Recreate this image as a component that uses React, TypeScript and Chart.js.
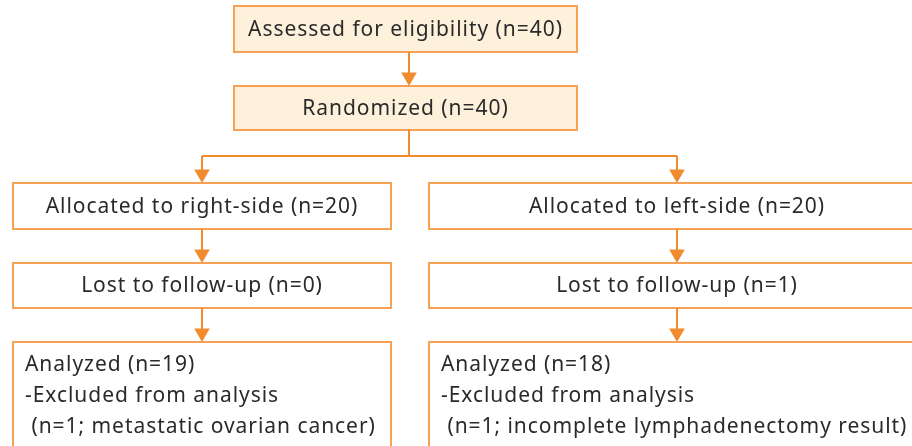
import React, { useEffect, useRef } from "react";
import { Chart, registerables } from "chart.js";
Chart.register(...registerables);

// ---- content ----
const stageLabels = [
  "Assessed for eligibility (n=40)",
  "Randomized (n=40)",
];
const armNames = ["right-side", "left-side"];
const allocatedN = [20, 20];
const lostN = [0, 1];
const analyzedN = [19, 18];
const excludedN = [1, 1];
const excludedReasons = ["metastatic ovarian cancer", "incomplete lymphadenectomy result"];

// ---- layout (in scale units, 1 unit = 1 px) ----
const W = 912;
const H = 446;
const topBoxX = [234, 577];
const topBoxY = [[6, 52], [86, 130]];
const armCenterX = [202, 677];
const armBoxX = [[13, 391], [429, 930]];
const allocY = [183, 229];
const lostY = [263, 308];
const analyzedY = [342, 460];
const trunkX = 409;
const splitY = 156;

const ORANGE = "#F28A2E";
const BORDER = "#F6A154";
const FILL = "#FEF1DC";
const TEXT = "#2a2a2a";
const FONT = '21px "Noto Sans", sans-serif';
const LETTER_SPACING = "0.95px";

type Box = { x0: number; x1: number; y0: number; y1: number; fill?: string; lines: string[]; align: "center" | "left"; cx?: number };

const boxes: Box[] = [
  { x0: topBoxX[0], x1: topBoxX[1], y0: topBoxY[0][0], y1: topBoxY[0][1], fill: FILL, lines: [stageLabels[0]], align: "center" },
  { x0: topBoxX[0], x1: topBoxX[1], y0: topBoxY[1][0], y1: topBoxY[1][1], fill: FILL, lines: [stageLabels[1]], align: "center" },
];
armNames.forEach((name, i) => {
  boxes.push({ x0: armBoxX[i][0], x1: armBoxX[i][1], y0: allocY[0], y1: allocY[1], lines: [`Allocated to ${name} (n=${allocatedN[i]})`], align: "center", cx: armCenterX[i] });
  boxes.push({ x0: armBoxX[i][0], x1: armBoxX[i][1], y0: lostY[0], y1: lostY[1], lines: [`Lost to follow-up (n=${lostN[i]})`], align: "center", cx: armCenterX[i] });
  boxes.push({
    x0: armBoxX[i][0], x1: armBoxX[i][1], y0: analyzedY[0], y1: analyzedY[1],
    lines: [`Analyzed (n=${analyzedN[i]})`, "-Excluded from analysis", ` (n=${excludedN[i]}; ${excludedReasons[i]})`],
    align: "left",
  });
});

// connector segments
const segments: { x: number; y: number }[][] = [
  [{ x: trunkX, y: topBoxY[0][1] }, { x: trunkX, y: topBoxY[1][0] - 2 }],
  [{ x: trunkX, y: topBoxY[1][1] }, { x: trunkX, y: splitY }],
  [{ x: armCenterX[0], y: splitY }, { x: armCenterX[1], y: splitY }],
];
const arrowTips: { x: number; y: number }[] = [{ x: trunkX, y: topBoxY[1][0] }];
armCenterX.forEach((cx) => {
  segments.push([{ x: cx, y: splitY }, { x: cx, y: allocY[0] - 2 }]);
  segments.push([{ x: cx, y: allocY[1] }, { x: cx, y: lostY[0] - 2 }]);
  segments.push([{ x: cx, y: lostY[1] }, { x: cx, y: analyzedY[0] - 2 }]);
  arrowTips.push({ x: cx, y: allocY[0] }, { x: cx, y: lostY[0] }, { x: cx, y: analyzedY[0] });
});
const ARROW_R = 9;

const boxPlugin = {
  id: "flowBoxes",
  beforeDatasetsDraw(chart: any) {
    const { ctx, scales } = chart;
    const xs = scales.x, ys = scales.y;
    ctx.save();
    boxes.forEach((b) => {
      const x0 = xs.getPixelForValue(b.x0), x1 = xs.getPixelForValue(b.x1);
      const y0 = ys.getPixelForValue(b.y0), y1 = ys.getPixelForValue(b.y1);
      if (b.fill) {
        ctx.fillStyle = b.fill;
        ctx.fillRect(x0, y0, x1 - x0, y1 - y0);
      }
      ctx.strokeStyle = BORDER;
      ctx.lineWidth = 2;
      ctx.strokeRect(x0, y0, x1 - x0, y1 - y0);
    });
    ctx.restore();
  },
  afterDatasetsDraw(chart: any) {
    const { ctx, scales } = chart;
    const xs = scales.x, ys = scales.y;
    ctx.save();
    ctx.fillStyle = TEXT;
    ctx.font = FONT;
    try { (ctx as any).letterSpacing = LETTER_SPACING; } catch (e) {}
    ctx.textBaseline = "middle";
    boxes.forEach((b) => {
      const x0 = xs.getPixelForValue(b.x0), x1 = xs.getPixelForValue(b.x1);
      const y0 = ys.getPixelForValue(b.y0), y1 = ys.getPixelForValue(b.y1);
      if (b.align === "center") {
        ctx.textAlign = "center";
        const cx = b.cx !== undefined ? xs.getPixelForValue(b.cx) : (x0 + x1) / 2;
        ctx.fillText(b.lines[0], cx, (y0 + y1) / 2 + 1);
      } else {
        ctx.textAlign = "left";
        b.lines.forEach((l, k) => ctx.fillText(l, x0 + 12, y0 + 23 + k * 31));
      }
    });
    ctx.restore();
  },
};

export default function App() {
  const ref = useRef<HTMLCanvasElement>(null);
  useEffect(() => {
    if (!ref.current) return;
    const datasets: any[] = segments.map((seg) => ({
      type: "line",
      data: seg,
      borderColor: ORANGE,
      borderWidth: 2,
      pointRadius: 0,
      showLine: true,
      fill: false,
      tension: 0,
      clip: false,
    }));
    datasets.push({
      type: "scatter",
      data: arrowTips.map((p) => ({ x: p.x, y: p.y - ARROW_R })),
      pointStyle: "triangle",
      rotation: 180,
      pointRadius: ARROW_R,
      backgroundColor: ORANGE,
      borderColor: ORANGE,
      borderWidth: 0,
      clip: false,
    });
    const chart = new Chart(ref.current, {
      type: "scatter",
      data: { datasets },
      options: {
        animation: false,
        responsive: false,
        maintainAspectRatio: false,
        layout: { padding: 0, autoPadding: false },
        events: [],
        plugins: { legend: { display: false }, tooltip: { enabled: false }, title: { display: false } },
        scales: {
          x: { type: "linear", min: 0, max: W, display: false },
          y: { type: "linear", min: 0, max: H, reverse: true, display: false },
        },
      },
      plugins: [boxPlugin],
    });
    return () => chart.destroy();
  }, []);
  return (
    <div style={{ position: "fixed", left: 0, top: 0, width: W, height: H, background: "#fff" }}>
      <canvas ref={ref} width={W} height={H} style={{ display: "block", width: W, height: H }} />
    </div>
  );
}
